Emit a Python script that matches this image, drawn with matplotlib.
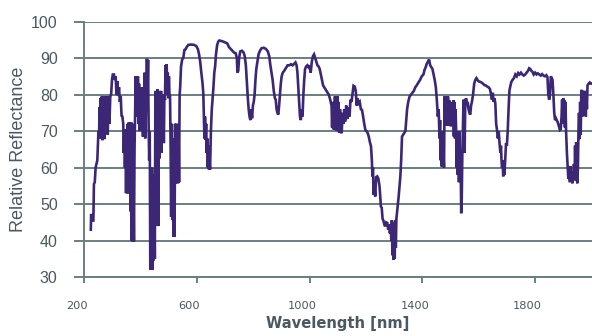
import matplotlib.pyplot as plt
import matplotlib.transforms as mtransforms

# reflectance spectrum, split in four wavelength bands
wl_vis = [224, 225, 228, 229, 233, 235, 238, 241, 244, 247,
          249, 251, 253, 255, 257, 259, 261, 263, 265, 267,
          269, 271, 273, 275, 278, 281, 284, 287, 290, 293,
          296, 299, 302, 306, 309, 312, 315, 318, 321, 324,
          327, 330, 333, 336, 339, 341, 343, 345, 347, 349,
          351, 353, 355, 357, 359, 361, 363, 365, 367, 369,
          371, 373, 375, 377, 379, 381, 383, 385, 387, 389,
          391, 393, 395, 397, 399, 401, 403, 405, 407, 409,
          411, 413, 415, 417, 419, 421, 423, 425, 427, 429,
          431, 433, 435, 437, 439, 441, 443, 445, 447, 449,
          451, 453, 455, 457, 459, 461, 463, 465, 467, 469,
          471, 473, 475, 477, 479, 481, 483, 485, 487, 489,
          491, 493, 495, 497, 499, 501, 503, 505, 507, 509,
          511, 513, 515, 517, 519, 521, 523, 525, 527, 529,
          531, 533, 535, 537, 539, 541, 544, 548, 552, 556,
          560, 564, 570, 580, 590, 598, 604, 608, 612, 616,
          620, 623, 625, 627, 629, 631, 633, 635, 637, 639,
          641, 643, 645, 647, 650, 653, 656, 659, 662, 665,
          668, 672, 676]
refl_vis = [43, 47, 47, 45.5, 45.5, 55.5, 56, 60, 61, 62,
            66, 70, 68, 76.5, 71, 79, 68, 79.5, 67.5, 79,
            68, 79.5, 67.8, 79.5, 70, 79.6, 69, 79.5, 72, 79.5,
            80, 84, 85.5, 85.5, 84, 85, 80, 83.7, 79.6, 82,
            78, 79.6, 74.2, 74, 72, 64, 70.5, 60, 70, 53,
            70.5, 53, 72, 53, 72.4, 53, 72, 48, 72.4, 40,
            72, 39.7, 56, 39.8, 65, 74, 85, 76, 84, 74,
            85, 72, 83, 70, 82, 74, 80, 70, 82, 68.5,
            80, 71, 86, 68, 75, 80, 89.8, 80, 89.5, 72,
            62, 70, 32, 55, 32, 60, 32, 44, 34.6, 58,
            35, 81, 44.2, 78, 59.4, 81.5, 44, 80, 62.5, 81,
            66.7, 81, 64, 80, 68, 78, 66.7, 80, 78.5, 88,
            80, 88.3, 82, 86, 79, 85, 80, 79.6, 66, 46.5,
            72, 45.7, 68, 41, 58, 41.1, 72, 55.6, 72, 56,
            70, 55.7, 72, 56, 80, 82, 87.7, 89.6, 90, 92.2,
            92.4, 93, 93.6, 93.7, 93.6, 93.3, 92.4, 91, 89, 86,
            83.3, 80.4, 74, 68, 74, 67.6, 72, 64, 68, 60,
            66, 59.5, 62, 59.5, 70, 75.8, 79, 82, 86, 87.7,
            91, 93.5, 94.5]

wl_nir = [680, 690, 700, 708, 714, 720, 726, 732, 738, 742,
          744, 747, 750, 754, 760, 766, 770, 774, 778, 781,
          784, 787, 790, 793, 796, 799, 802, 805, 808, 811,
          815, 819, 824, 830, 838, 845, 852, 857, 861, 865,
          869, 873, 877, 880, 883, 886, 889, 892, 895, 898,
          901, 905, 910, 914, 918, 922, 928, 934, 940, 946,
          950, 954, 957, 960, 963, 966, 969, 972, 975, 978,
          981, 984, 988, 992, 996, 1000, 1004, 1008, 1012, 1016,
          1020, 1024, 1028, 1032, 1036, 1040, 1044, 1048, 1052, 1056,
          1060, 1064, 1068]
refl_nir = [94.8, 94.6, 94.3, 94, 93, 92.5, 92, 91.5, 91.3, 90,
            86, 86.5, 90, 91.8, 92, 91.5, 90.5, 88, 83, 79,
            76, 74, 73, 76, 73.5, 77, 78, 80, 84, 87,
            89, 91, 92, 92.7, 92.8, 92.5, 91.8, 90.5, 88, 86,
            84, 81, 79, 78.6, 76, 75, 74.5, 77, 80, 83,
            85, 86, 86.5, 87, 87.5, 88, 88, 88.3, 88, 88.5,
            88.8, 88, 86, 82, 78, 74, 73, 76, 74, 80,
            84, 87, 87.7, 88, 87.5, 88, 86, 89, 90.5, 91,
            90, 89, 88, 87.7, 87, 85.5, 84, 82.5, 82, 81.5,
            81, 80.5, 80]

wl_swir1 = [1072, 1075, 1078, 1080, 1082, 1084, 1086, 1088, 1090, 1093,
            1095, 1097, 1099, 1101, 1103, 1105, 1108, 1111, 1114, 1117,
            1120, 1123, 1126, 1130, 1134, 1138, 1142, 1145, 1149, 1152,
            1156, 1160, 1164, 1167, 1170, 1174, 1178, 1182, 1186, 1190,
            1194, 1198, 1202, 1206, 1210, 1214, 1218, 1221, 1223, 1225,
            1227, 1230, 1233, 1236, 1240, 1244, 1248, 1250, 1253, 1256,
            1259, 1262, 1265, 1268, 1272, 1276, 1279, 1282, 1285, 1288,
            1290, 1292, 1294, 1296, 1298, 1300, 1302, 1304, 1306, 1308,
            1310, 1313, 1316, 1319, 1322, 1325, 1328, 1332, 1336, 1340,
            1343, 1346, 1350, 1355, 1360, 1365, 1370, 1375, 1380, 1386,
            1392, 1398, 1404, 1408, 1412, 1416, 1420, 1424, 1428, 1432,
            1436, 1440]
refl_swir1 = [79, 78, 77, 71, 78, 70.5, 77, 70.3, 79.5, 72,
              79, 70, 79.5, 71, 78, 69.5, 76, 70, 69.4, 75,
              72, 76, 72.6, 77, 73.3, 76.5, 74, 78.6, 78, 80,
              82.4, 82.2, 81, 77, 79, 77.6, 78, 76, 75.8, 74,
              72, 70.3, 70, 69.5, 68.5, 67, 65.8, 62, 57.6, 60,
              52.5, 55, 52.1, 57.4, 57.6, 57, 55, 53, 49.4, 49,
              46, 45.5, 44.5, 43.9, 45, 44.8, 43, 44.5, 42, 44,
              40, 45.6, 36, 45, 34.8, 44, 35, 45.6, 38, 46,
              47.5, 50, 52, 54.8, 57.5, 62, 68.5, 69, 69.5, 70,
              73, 76, 78, 79.5, 80, 80.5, 81, 82, 82.5, 83.3,
              84, 85, 85.5, 86.8, 87.5, 88.5, 89, 89.6, 88, 87.5,
              87, 85.5]

wl_swir2 = [1444, 1448, 1452, 1455, 1458, 1461, 1463, 1465, 1467, 1469,
            1471, 1473, 1475, 1477, 1479, 1481, 1483, 1485, 1487, 1489,
            1491, 1493, 1495, 1497, 1499, 1501, 1503, 1505, 1508, 1510,
            1512, 1514, 1516, 1518, 1520, 1522, 1524, 1526, 1528, 1530,
            1532, 1534, 1536, 1538, 1540, 1542, 1544, 1546, 1548, 1550,
            1552, 1555, 1558, 1561, 1564, 1567, 1570, 1573, 1576, 1580,
            1584, 1588, 1592, 1596, 1600, 1605, 1610, 1615, 1620, 1625,
            1630, 1635, 1640, 1644, 1647, 1650, 1653, 1656, 1659, 1662,
            1665, 1668, 1671, 1674, 1677, 1679, 1681, 1683, 1685, 1687,
            1689, 1691, 1694, 1697, 1700, 1703, 1706, 1709, 1712, 1716,
            1720, 1725, 1730, 1735, 1740, 1745, 1750, 1755, 1760, 1765,
            1770, 1775, 1779, 1783, 1787, 1791, 1795, 1800, 1805, 1810,
            1815, 1820, 1825, 1830, 1835, 1840, 1844, 1847, 1850, 1853,
            1856, 1859, 1862, 1865, 1868, 1871, 1874, 1877, 1880, 1884,
            1888, 1891, 1894, 1896, 1898, 1900, 1902, 1904, 1906, 1908,
            1910, 1913, 1916, 1918, 1920, 1922, 1924, 1926, 1928, 1930,
            1932, 1934, 1936, 1938, 1940, 1942, 1944, 1946, 1948, 1950,
            1952, 1954, 1956, 1958, 1960, 1962, 1964, 1966, 1968, 1970,
            1972, 1974, 1976, 1978, 1980, 1982, 1984, 1986, 1990, 1994,
            1998, 2002]
refl_swir2 = [84, 82, 78, 74, 76, 68, 73, 62, 70, 60.3,
              66, 60.3, 64, 60, 79.5, 72, 79.5, 71.5, 79, 72,
              79.5, 71.5, 78.5, 72, 78, 71.3, 77, 73, 72, 78.5,
              68.5, 78, 68, 76, 70, 60, 70, 58, 69, 56,
              70, 57, 62, 47.5, 52, 64, 70, 78.6, 70, 64,
              76, 79, 77.5, 78, 76, 75, 74.5, 77, 78, 80,
              83, 84, 84.5, 84, 83.6, 83.5, 83.3, 83, 82.6, 82.5,
              82.2, 82, 81.5, 80, 78.6, 80.5, 78, 79, 77.6, 72,
              70.3, 68, 70, 66.7, 64, 66, 62, 60, 62, 57.6,
              60, 58, 62, 66.7, 66, 70, 76, 81, 82.2, 83.5,
              84, 84.5, 85.5, 85, 85.9, 85.5, 86, 85.5, 85.2, 85.5,
              86, 86.5, 87.2, 87, 86.5, 86.2, 85.5, 86, 85.5, 85.8,
              85.5, 85.2, 85.6, 85.2, 85, 85.3, 84.8, 80, 78.6, 80,
              85, 84.5, 84, 80, 75, 73, 73.5, 73, 72.5, 71.5,
              70.3, 70.5, 74, 78.6, 74, 79, 72, 78.5, 71, 78,
              70, 64, 60, 57, 59, 57, 56, 60.4, 57, 59,
              55.7, 58, 57, 61, 56.5, 66, 58, 67, 57, 55.7,
              60, 70, 75, 67.8, 78, 69, 80.5, 81.3, 74, 81,
              74.5, 81, 75, 81, 74, 80, 76, 82.5, 83, 83.3,
              83, 83]

x_ticks = [200, 600, 1000, 1400, 1800]
y_ticks = [30, 40, 50, 60, 70, 80, 90, 100]

wavelength = wl_vis + wl_nir + wl_swir1 + wl_swir2
reflectance = refl_vis + refl_nir + refl_swir1 + refl_swir2

grid_col = '#687f80'
text_col = '#4a5862'

fig = plt.figure(figsize=(5.92, 3.36), dpi=100)
ax = fig.add_axes([0.142, 0.175, 0.858, 0.761])

ax.plot(wavelength, reflectance, color='#3b2776', lw=1.9, solid_joinstyle='miter')

ax.set_xlim(200, 2002)
ax.set_ylim(30, 100)
ax.set_xticks(x_ticks)
ax.set_yticks(y_ticks)

ax.grid(axis='y', color=grid_col, lw=1.4)
ax.set_axisbelow(True)
for side in ['top', 'right']:
    ax.spines[side].set_visible(False)
for side in ['left', 'bottom']:
    ax.spines[side].set_color(grid_col)
    ax.spines[side].set_linewidth(1.4)

ax.tick_params(axis='y', length=7, width=1.4, color=grid_col, pad=12,
               labelsize=11.5, labelcolor=text_col)
ax.tick_params(axis='x', length=4, width=1.4, color=grid_col, pad=13,
               labelsize=8.2, labelcolor=text_col)
for lab in ax.get_yticklabels():
    lab.set_family('Liberation Sans')

# the x labels sit a few pixels left of their ticks in the original
shift = mtransforms.ScaledTranslation(-7.5 / 100, 0, fig.dpi_scale_trans)
for lab in ax.get_xticklabels():
    lab.set_transform(lab.get_transform() + shift)

ax.set_xlabel('Wavelength [nm]', fontsize=10.6, fontweight='bold',
              color=text_col, labelpad=4)
ax.set_ylabel('Relative Reflectance', fontsize=13, family='Liberation Sans',
              color=text_col, labelpad=3)

fig.savefig('out.png', dpi=100)
